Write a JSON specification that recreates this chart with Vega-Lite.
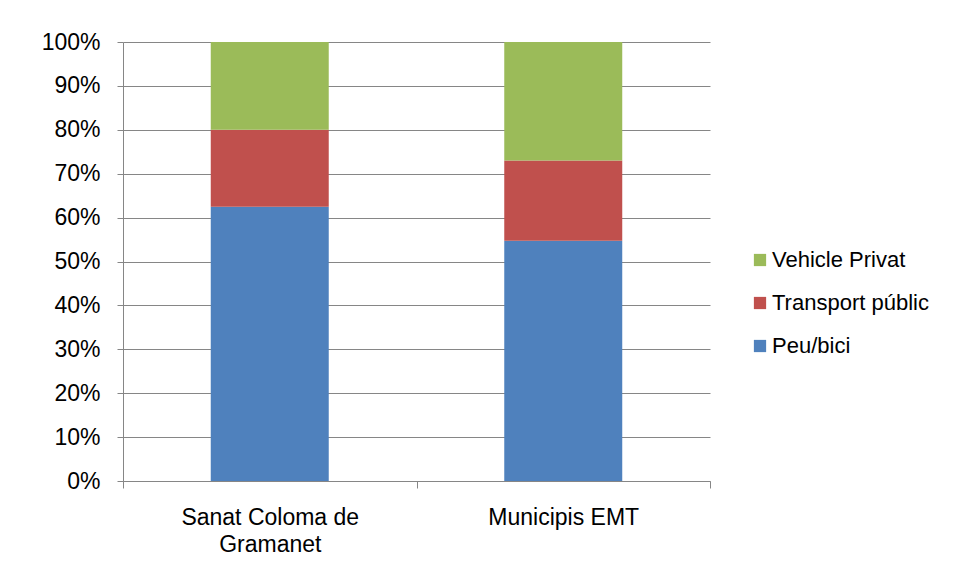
{
  "$schema": "https://vega.github.io/schema/vega-lite/v6.json",
  "autosize": {"type": "none"},
  "padding": {"left": 123, "top": 42, "right": 244, "bottom": 100},
  "width": 587,
  "height": 439,
  "background": "white",
  "config": {
    "font": "Liberation Sans",
    "view": {"stroke": null}
  },
  "data": {
    "values": [
      {"zone": "Sanat Coloma de Gramanet", "mode": "Peu/bici", "ord": 1, "pct": 62.5},
      {"zone": "Sanat Coloma de Gramanet", "mode": "Transport públic", "ord": 2, "pct": 17.5},
      {"zone": "Sanat Coloma de Gramanet", "mode": "Vehicle Privat", "ord": 3, "pct": 20.0},
      {"zone": "Municipis EMT", "mode": "Peu/bici", "ord": 1, "pct": 54.7},
      {"zone": "Municipis EMT", "mode": "Transport públic", "ord": 2, "pct": 18.3},
      {"zone": "Municipis EMT", "mode": "Vehicle Privat", "ord": 3, "pct": 27.0}
    ]
  },
  "mark": {"type": "bar", "width": {"band": 0.402}},
  "encoding": {
    "x": {
      "field": "zone",
      "type": "nominal",
      "sort": null,
      "scale": {"paddingInner": 0, "paddingOuter": 0},
      "axis": {
        "title": null,
        "labelAngle": 0,
        "labelFontSize": 23,
        "labelColor": "black",
        "labelLineHeight": 27,
        "labelExpr": "datum.label == 'Sanat Coloma de Gramanet' ? ['Sanat Coloma de', 'Gramanet'] : datum.label",
        "tickBand": "extent",
        "tickSize": 7,
        "tickColor": "#868686",
        "domainColor": "#868686",
        "labelPadding": 18,
        "grid": false
      }
    },
    "y": {
      "field": "pct",
      "type": "quantitative",
      "stack": "normalize",
      "scale": {"domain": [0, 1]},
      "axis": {
        "title": null,
        "format": ".0%",
        "values": [0, 0.1, 0.2, 0.3, 0.4, 0.5, 0.6, 0.7, 0.8, 0.9, 1],
        "labelFontSize": 23,
        "labelColor": "black",
        "labelPadding": 17,
        "tickSize": 6,
        "tickColor": "#868686",
        "domainColor": "#868686",
        "gridColor": "#868686",
        "gridWidth": 1,
        "gridOpacity": 1
      }
    },
    "color": {
      "field": "mode",
      "type": "nominal",
      "scale": {
        "domain": ["Vehicle Privat", "Transport públic", "Peu/bici"],
        "range": ["#9BBB59", "#C0504D", "#4F81BD"]
      },
      "legend": {
        "title": null,
        "orient": "none",
        "legendX": 626,
        "legendY": 207,
        "symbolType": "square",
        "symbolSize": 150,
        "symbolStrokeWidth": 0,
        "symbolOpacity": 1,
        "labelFontSize": 22,
        "labelColor": "black",
        "labelOffset": 1,
        "rowPadding": 21
      }
    },
    "order": {"field": "ord", "type": "quantitative"}
  }
}
